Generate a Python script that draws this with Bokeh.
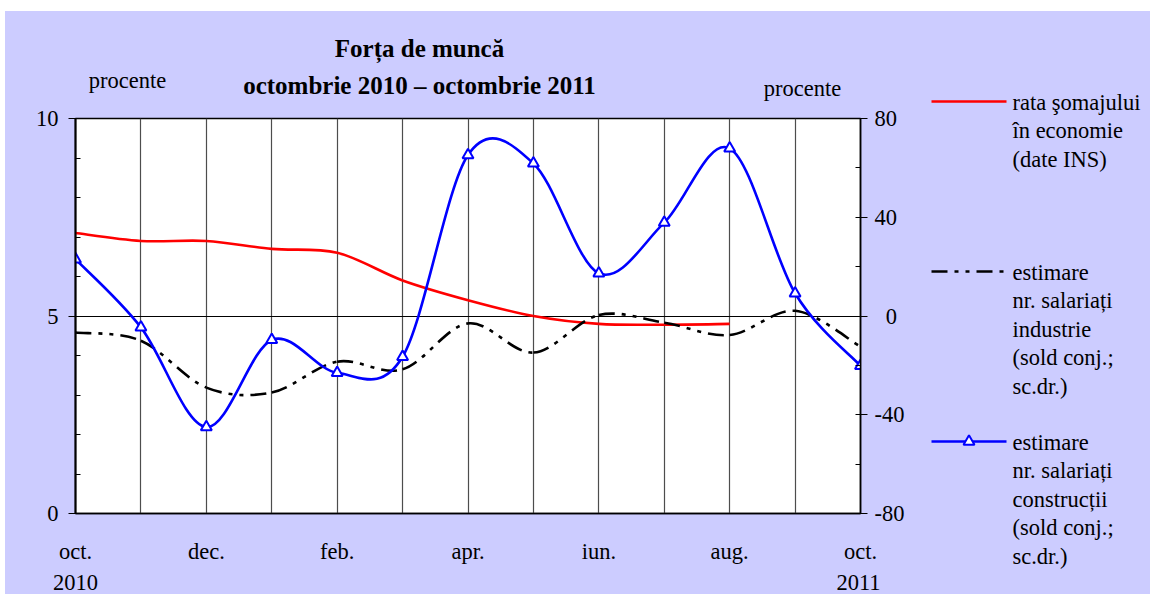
from bokeh.plotting import figure
from bokeh.models import Range1d, LinearAxis, FixedTicker, Label, ColumnDataSource, Spacer
from bokeh.layouts import row, column
from bokeh.embed import file_html
from bokeh.resources import INLINE

# ---------------- data ----------------
months_idx = list(range(13))  # oct 2010 ... oct 2011
tick_labels = ["oct.", "", "dec.", "", "feb.", "", "apr.", "", "iun.", "", "aug.", "", "oct."]
year_labels = ["2010", "2011"]
somaj = [7.1, 6.9, 6.9, 6.7, 6.6, 5.9, 5.4, 5.0, 4.8, 4.78, 4.8]
industrie = [-6.7, -10.0, -29.0, -31.0, -18.5, -21.6, -3.0, -14.8, 0.4, -2.7, -7.7, 2.1, -12.4]
constructii = [23.0, -4.6, -45.0, -9.7, -23.0, -16.5, 65.2, 61.8, 17.3, 37.8, 67.9, 9.2, -20.2]
title_lines = ["Forța de muncă", "octombrie 2010 – octombrie 2011"]
unit_label = "procente"
legend_red = ["rata şomajului", "în economie", "(date INS)"]
legend_black = ["estimare", "nr. salariați", "industrie", "(sold conj.;", "sc.dr.)"]
legend_blue = ["estimare", "nr. salariați", "construcții", "(sold conj.;", "sc.dr.)"]
left_ticks = [0, 5, 10]
left_tick_labels = ["0", "5", "10"]
right_ticks = [-80, -40, 0, 40, 80]
right_tick_labels = ["-80", "-40", "\u20020", "40", "80"]

# ---------------- layout (page pixel coordinates) ----------------
PX0, PY0 = 5, 11          # top-left of the chart area
XL, XR = 925, 1150        # split between plot column and legend column
Y_HEAD, Y_FOOT, Y_END = 104, 566, 594
FX0, FX1, FY1, FY0 = 75, 860, 118, 513   # plot frame
BG = "#CCCCFF"
FONT = "Liberation Serif"
FS = "22.5px"
RED, BLUE = "#FF0000", "#0000FF"
DASH = "16 7 4 7 4 7"
LABEL_DY = -8             # baseline correction for Label text


def blank(x0, x1, y0, y1):
    f = figure(width=x1 - x0, height=y1 - y0, x_range=Range1d(x0, x1), y_range=Range1d(y1, y0),
               output_backend="svg", toolbar_location=None, title=None,
               x_axis_location=None, y_axis_location=None, min_border=0, frame_align=False,
               background_fill_color=BG, border_fill_color=BG, outline_line_color=None)
    f.xgrid.visible = False
    f.ygrid.visible = False
    return f


def add_text(f, txt, x, y, size=FS, bold=False, align="left"):
    f.add_layout(Label(x=x, y=y + LABEL_DY, text=txt, text_font=FONT, text_font_size=size,
                       text_align=align, text_baseline="alphabetic", text_color="black",
                       text_font_style="bold" if bold else "normal"))


def bezier_source(xs, ys):
    n = len(xs)
    d = {k: [] for k in ("x0", "y0", "x1", "y1", "cx0", "cy0", "cx1", "cy1")}
    for i in range(n - 1):
        xa, ya = (xs[i - 1], ys[i - 1]) if i > 0 else (xs[i], ys[i])
        xb, yb = (xs[i + 2], ys[i + 2]) if i + 2 < n else (xs[i + 1], ys[i + 1])
        d["x0"].append(xs[i]); d["y0"].append(ys[i])
        d["x1"].append(xs[i + 1]); d["y1"].append(ys[i + 1])
        d["cx0"].append(xs[i] + (xs[i + 1] - xa) / 6)
        d["cy0"].append(ys[i] + (ys[i + 1] - ya) / 6)
        d["cx1"].append(xs[i + 1] - (xb - xs[i]) / 6)
        d["cy1"].append(ys[i + 1] - (yb - ys[i]) / 6)
    return ColumnDataSource(d)


# ---------------- header ----------------
head = blank(PX0, XL, PY0, Y_HEAD)
add_text(head, title_lines[0], 419, 56, size="25px", bold=True, align="center")
add_text(head, title_lines[1], 419, 93, size="25px", bold=True, align="center")
add_text(head, unit_label, 127, 88, align="center")
add_text(head, unit_label, 802, 96, align="center")

# ---------------- main plot ----------------
W_MAIN, H_MAIN = XL - PX0, Y_FOOT - Y_HEAD
p = figure(width=W_MAIN, height=H_MAIN, x_range=Range1d(0, 12), y_range=Range1d(0, 10),
           output_backend="svg", toolbar_location=None, title=None, frame_align=False,
           min_border_left=FX0 - PX0, min_border_right=XL - FX1,
           min_border_top=FY1 - Y_HEAD, min_border_bottom=Y_FOOT - FY0,
           background_fill_color="white", border_fill_color=BG,
           outline_line_color="black", outline_line_width=1.5)
p.extra_y_ranges = {"right": Range1d(-80, 80)}

p.xgrid.ticker = FixedTicker(ticks=months_idx)
p.xgrid.grid_line_color = "#4d4d4d"
p.xgrid.grid_line_width = 1.2
p.ygrid.ticker = FixedTicker(ticks=[5])
p.ygrid.grid_line_color = "black"
p.ygrid.grid_line_width = 1.2

xa = p.xaxis[0]
xa.ticker = FixedTicker(ticks=months_idx)
xa.major_label_overrides = {i: t for i, t in zip(months_idx, tick_labels)}
xa.major_tick_in = 0
xa.major_tick_out = 0
xa.minor_tick_line_color = None
xa.axis_line_color = "black"
xa.axis_line_width = 1.5
xa.major_label_text_font = FONT
xa.major_label_text_font_size = FS
xa.major_label_text_color = "black"
xa.major_label_standoff = 25

ya = p.yaxis[0]
ya.ticker = FixedTicker(ticks=left_ticks, minor_ticks=list(range(0, 11)))
ya.major_label_overrides = {t: s for t, s in zip(left_ticks, left_tick_labels)}
ya.major_tick_out = 7
ya.major_tick_in = 0
ya.minor_tick_in = 5
ya.minor_tick_out = 0
ya.major_tick_line_color = "black"
ya.minor_tick_line_color = "black"
ya.axis_line_color = "black"
ya.axis_line_width = 2
ya.major_label_text_font = FONT
ya.major_label_text_font_size = FS
ya.major_label_text_color = "black"
ya.major_label_standoff = 10

ra = LinearAxis(y_range_name="right",
                ticker=FixedTicker(ticks=right_ticks, minor_ticks=list(range(-80, 81, 20))))
ra.major_label_overrides = {t: s for t, s in zip(right_ticks, right_tick_labels)}
ra.major_tick_out = 7
ra.major_tick_in = 0
ra.minor_tick_in = 5
ra.minor_tick_out = 0
ra.major_tick_line_color = "black"
ra.minor_tick_line_color = "black"
ra.axis_line_color = "black"
ra.axis_line_width = 1.5
ra.major_label_text_font = FONT
ra.major_label_text_font_size = FS
ra.major_label_text_color = "black"
ra.major_label_standoff = 7
p.add_layout(ra, "right")

bz = dict(x0="x0", y0="y0", x1="x1", y1="y1", cx0="cx0", cy0="cy0", cx1="cx1", cy1="cy1")
p.bezier(source=bezier_source(months_idx[:len(somaj)], somaj),
         line_color=RED, line_width=2.6, **bz)
p.bezier(source=bezier_source(months_idx, industrie), y_range_name="right",
         line_color="black", line_width=2.6, line_dash=DASH, **bz)
p.bezier(source=bezier_source(months_idx, constructii), y_range_name="right",
         line_color=BLUE, line_width=2.6, **bz)
p.scatter(months_idx, constructii, y_range_name="right", marker="triangle", size=11,
          line_color=BLUE, line_width=2, fill_color="white")

# ---------------- footer (years) ----------------
foot = blank(PX0, XL, Y_FOOT, Y_END)
add_text(foot, year_labels[0], FX0, 590, align="center")
add_text(foot, year_labels[1], FX1 - 2, 590, align="center")

# ---------------- legend ----------------
leg = blank(XL, XR, PY0, Y_END)
LX0, LX1, TX = 931, 1006, 1012
entries = [(legend_red, 101, RED, "solid", False),
           (legend_black, 271, "black", DASH, False),
           (legend_blue, 441, BLUE, "solid", True)]
for lines, ly, color, dash, marker in entries:
    leg.segment(x0=[LX0], y0=[ly], x1=[LX1], y1=[ly], line_color=color,
                line_width=2.6, line_dash=dash)
    if marker:
        leg.scatter(x=[(LX0 + LX1) / 2], y=[ly], marker="triangle", size=11,
                    line_color=color, line_width=2, fill_color="white")
    for k, t in enumerate(lines):
        add_text(leg, t, TX, ly + 8.6 + k * 28.6)

bg_style = {"background-color": BG}
inner = row(column(head, p, foot, styles=bg_style), leg, styles=bg_style)
layout = column(Spacer(height=PY0), row(Spacer(width=PX0), inner))

open("out.html", "w").write(file_html(layout, INLINE))
